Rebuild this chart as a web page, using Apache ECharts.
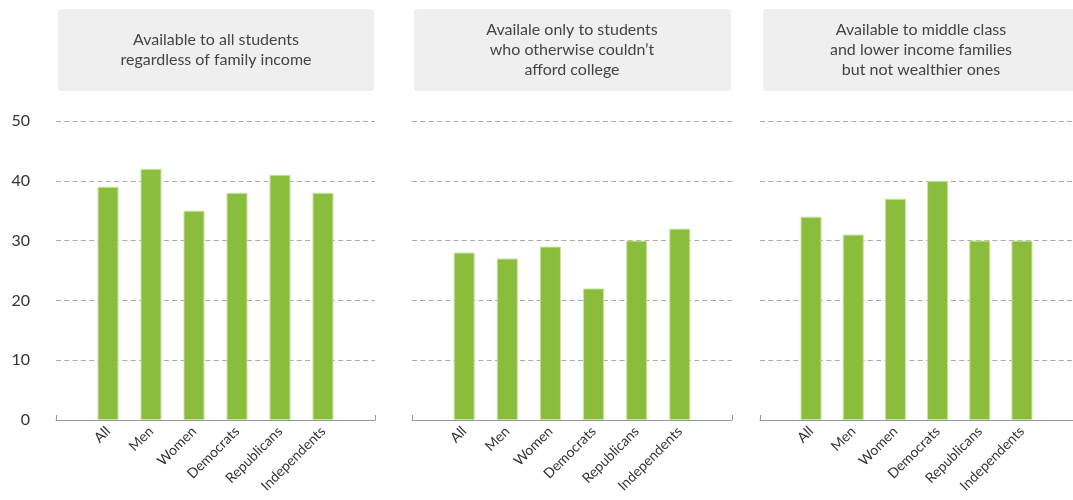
<!DOCTYPE html>
<html>
<head>
<meta charset="utf-8">
<script src="https://cdn.jsdelivr.net/npm/echarts@6/dist/echarts.min.js"></script>
<style>html,body{margin:0;padding:0;background:#fff}#c{width:1073px;height:500px}</style>
</head>
<body>
<div id="c"></div>
<script>
const categories = ['All', 'Men', 'Women', 'Democrats', 'Republicans', 'Independents'];
const panelTitles = [
  'Available to all students\nregardless of family income',
  'Availale only to students\nwho otherwise couldn\u2019t\nafford college',
  'Available to middle class\nand lower income families\nbut not wealthier ones'
];
const allStudentsValues = [39, 42, 35, 38, 41, 38];
const needOnlyValues = [28, 27, 29, 22, 30, 32];
const middleLowerValues = [34, 31, 37, 40, 30, 30];
const yTicks = [0, 10, 20, 30, 40, 50];

const seriesValues = [allStudentsValues, needOnlyValues, middleLowerValues];
const FONT = 'Lato, "Noto Sans", sans-serif';
const panels = [
  { left: 56, width: 319, box: [58, 316] },
  { left: 412, width: 320, box: [414, 317] },
  { left: 760, width: 320, box: [763, 320] }
];
const XMIN = -1.21, XMAX = categories.length - 1 + 1.21;

const grids = [], xAxes = [], yAxes = [], series = [], graphics = [];
panels.forEach((p, i) => {
  grids.push({ left: p.left, width: p.width, top: 121, bottom: 80, containLabel: false });
  xAxes.push({
    type: 'value', gridIndex: i, min: XMIN, max: XMAX,
    splitLine: { show: false },
    axisLine: { show: true, lineStyle: { color: '#999', width: 1 } },
    axisTick: { show: true, inside: true, length: 5, customValues: [XMIN, XMAX], lineStyle: { color: '#999' } },
    axisLabel: {
      show: true, customValues: categories.map((c, k) => k), rotate: 45, margin: 9,
      formatter: v => categories[Math.round(v)], color: '#333', fontSize: 14, fontFamily: FONT
    }
  });
  yAxes.push({
    type: 'value', gridIndex: i, min: 0, max: 50, interval: 10,
    axisLine: { show: false }, axisTick: { show: false },
    axisLabel: { show: i === 0, margin: 26, color: '#333', fontSize: 16, fontFamily: FONT,
      formatter: v => yTicks.includes(v) ? String(v) : '' },
    splitLine: { show: true, lineStyle: { color: '#aaa', type: [5, 3.3], width: 1 } }
  });
  series.push({
    type: 'bar', xAxisIndex: i, yAxisIndex: i, barWidth: 21,
    data: seriesValues[i].map((v, k) => [k, v]),
    itemStyle: { color: '#8abd3c', borderColor: '#c9e2a6', borderWidth: 1 },
    silent: true
  });
  graphics.push({
    type: 'group', left: p.box[0], top: 9,
    children: [
      { type: 'rect', shape: { x: 0, y: 0, width: p.box[1], height: 82, r: 3 }, style: { fill: '#efefef' } },
      { type: 'text', x: 316 / 2, y: 41, style: {
          text: panelTitles[i], align: 'center', verticalAlign: 'middle',
          fill: '#444', font: '16px ' + FONT, lineHeight: 20 } }
    ]
  });
});

const chart = echarts.init(document.getElementById('c'), null, { renderer: 'canvas' });
chart.setOption({
  animation: false,
  grid: grids, xAxis: xAxes, yAxis: yAxes, series: series, graphic: graphics
});
</script>
</body>
</html>
